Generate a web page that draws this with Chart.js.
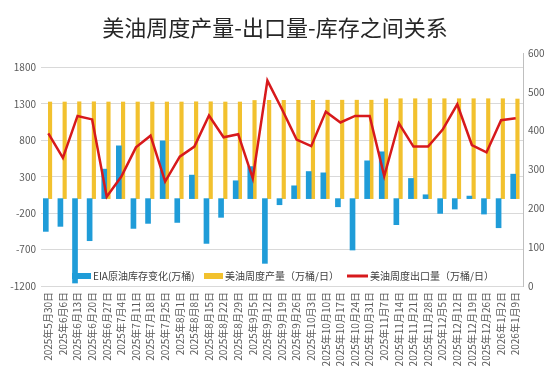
<!DOCTYPE html>
<html>
<head>
<meta charset="utf-8">
<script src="https://cdn.jsdelivr.net/npm/chart.js@4.4.1/dist/chart.umd.min.js"></script>
<style>
    html, body { margin: 0; padding: 0; background: #fff; }
    #oilChart { display: block; }
</style>
</head>
<body>
<canvas id="oilChart" width="550" height="375"></canvas>
<script>
// weekly dates
const weeks = [
    "2025年5月30日", "2025年6月6日", "2025年6月13日", "2025年6月20日", "2025年6月27日",
    "2025年7月4日", "2025年7月11日", "2025年7月18日", "2025年7月25日", "2025年8月1日",
    "2025年8月8日", "2025年8月15日", "2025年8月22日", "2025年8月29日", "2025年9月5日",
    "2025年9月12日", "2025年9月19日", "2025年9月26日", "2025年10月3日", "2025年10月10日",
    "2025年10月17日", "2025年10月24日", "2025年10月31日", "2025年11月7日", "2025年11月14日",
    "2025年11月21日", "2025年11月28日", "2025年12月5日", "2025年12月12日", "2025年12月19日",
    "2025年12月26日", "2026年1月2日", "2026年1月9日"
];

// EIA crude stock change (万桶), left axis
const stockChange = [
    -450, -381, -1159, -578, 405, 725, -409, -340, 793, -327, 323,
    -615, -257, 245, 440, -889, -84, 176, 372, 354, -112, -706,
    519, 643, -358, 277, 53, -203, -143, 35, -212, -400, 336
];

// weekly production (万桶/日), left axis
const production = [
    1327, 1327, 1330, 1330, 1327, 1327, 1327, 1327, 1327, 1327, 1330,
    1330, 1327, 1327, 1348, 1350, 1350, 1350, 1350, 1352, 1352, 1352,
    1352, 1370, 1372, 1372, 1372, 1372, 1372, 1372, 1372, 1372, 1368
];

// weekly exports (万桶/日), right axis
const exports = [
    393, 330, 438, 429, 230, 282, 357, 387, 269, 333, 359,
    439, 383, 391, 277, 529, 455, 377, 360, 449, 421, 438,
    438, 283, 419, 359, 359, 403, 468, 363, 344, 427, 432
];

const leftTicks = [-1200, -700, -200, 300, 800, 1300, 1800];
const rightTicks = [0, 100, 200, 300, 400, 500, 600];

const fontFamily = "'Noto Sans CJK SC', 'Noto Sans', sans-serif";
const gridColor = "#d9d9d9";
const labelColor = "#595959";

// legend drawn inside the plot, over the bars
const innerLegend = {
    id: "innerLegend",
    afterDraw(chart) {
        const ctx = chart.ctx;
        const sets = chart.data.datasets;
        const items = [
            { ds: sets[0], x: 72, w: 19, kind: "box" },
            { ds: sets[1], x: 204, w: 19, kind: "box" },
            { ds: sets[2], x: 347, w: 21, kind: "line" }
        ];
        const y = 276;
        ctx.save();
        ctx.font = "10px " + fontFamily;
        ctx.textBaseline = "middle";
        ctx.textAlign = "left";
        items.forEach(it => {
            if (it.kind === "box") {
                ctx.fillStyle = it.ds.backgroundColor;
                ctx.fillRect(it.x, y - 3, it.w, 6);
            } else {
                ctx.strokeStyle = it.ds.borderColor;
                ctx.lineWidth = 3;
                ctx.beginPath();
                ctx.moveTo(it.x, y);
                ctx.lineTo(it.x + it.w, y);
                ctx.stroke();
            }
            ctx.fillStyle = "#404040";
            ctx.fillText(it.ds.label, it.x + it.w + 2, y);
        });
        ctx.restore();
    }
};

let ctx = document.getElementById("oilChart").getContext("2d");
let oilChart = new Chart(ctx, {
    data: {
        labels: weeks,
        datasets: [
            {
                type: "bar",
                label: "EIA原油库存变化(万桶)",
                data: stockChange,
                backgroundColor: "#1f9cd8",
                barThickness: 5,
                yAxisID: "y",
                order: 2
            },
            {
                type: "bar",
                label: "美油周度产量（万桶/日）",
                data: production,
                backgroundColor: "#f2c12e",
                barThickness: 3.5,
                yAxisID: "y",
                order: 2
            },
            {
                type: "line",
                label: "美油周度出口量（万桶/日）",
                data: exports,
                borderColor: "#d7191c",
                backgroundColor: "#d7191c",
                borderWidth: 2.5,
                pointRadius: 0,
                tension: 0,
                yAxisID: "y1",
                order: 1
            }
        ]
    },
    options: {
        responsive: false,
        animation: false,
        layout: { padding: 0 },
        plugins: {
            legend: { display: false },
            tooltip: { enabled: false },
            title: {
                display: true,
                text: "美油周度产量-出口量-库存之间关系",
                color: "#262626",
                font: { family: fontFamily, size: 22, weight: "normal", lineHeight: 1.2 },
                padding: { top: 14, bottom: 12.6 }
            }
        },
        scales: {
            x: {
                grid: { display: false, drawTicks: false },
                border: { display: false },
                ticks: {
                    autoSkip: false,
                    maxRotation: 90,
                    minRotation: 90,
                    padding: 6,
                    color: labelColor,
                    font: { family: fontFamily, size: 10 }
                },
                afterFit: (scale) => { scale.height = 89; }
            },
            y: {
                position: "left",
                min: -1200,
                max: 2000,
                afterBuildTicks: (axis) => { axis.ticks = leftTicks.map(v => ({ value: v })); },
                grid: { color: gridColor, drawTicks: false },
                border: { display: false },
                ticks: {
                    padding: 5,
                    color: labelColor,
                    font: { family: fontFamily, size: 10 },
                    callback: (v) => String(v)
                },
                afterFit: (scale) => { scale.width = 41; }
            },
            y1: {
                position: "right",
                min: 0,
                max: 600,
                afterBuildTicks: (axis) => { axis.ticks = rightTicks.map(v => ({ value: v })); },
                grid: { drawOnChartArea: false, drawTicks: false },
                border: { display: true, color: "#bfbfbf", width: 1 },
                ticks: {
                    padding: 5,
                    color: labelColor,
                    font: { family: fontFamily, size: 10 },
                    callback: (v) => String(v)
                },
                afterFit: (scale) => { scale.width = 27; }
            }
        }
    },
    plugins: [innerLegend]
});
</script>
</body>
</html>
